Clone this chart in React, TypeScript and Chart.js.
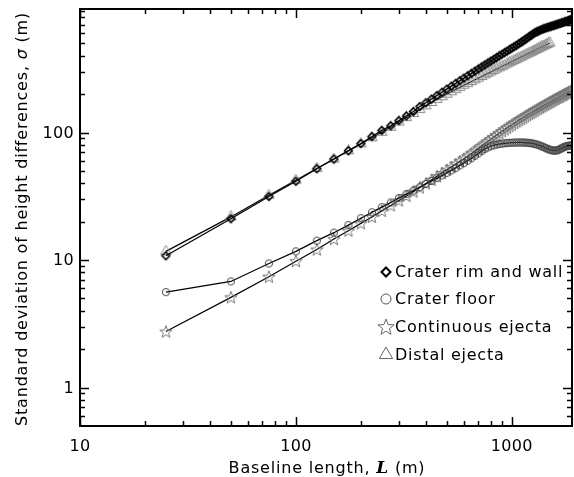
import React, { useEffect, useRef } from 'react';
import { Chart, registerables } from 'chart.js';

Chart.register(...registerables);

const W = 574;
const H = 477;

// Baseline length L (m)
const baseline = [
  25, 50, 75, 100, 125, 150, 175, 200, 225, 250, 275, 300, 325, 350, 375,
  400, 425, 450, 475, 500, 525, 550, 575, 600, 625, 650, 675, 700, 725, 750,
  775, 800, 825, 850, 875, 900, 925, 950, 975, 1000,
  1025, 1050, 1075, 1100, 1125, 1150, 1175, 1200, 1225, 1250, 1275, 1300,
  1325, 1350, 1375, 1400, 1425, 1450, 1475, 1500, 1525, 1550, 1575, 1600,
  1625, 1650, 1675, 1700, 1725, 1750, 1775, 1800, 1825, 1850, 1875, 1900,
];

// sigma (m) per unit
const rimWall = [
  10.8, 21.1, 31.5, 41.5, 52, 62, 72, 82, 93, 104, 113, 124, 135, 146, 160,
  171, 183, 195, 207, 219, 231, 243, 255, 267, 279, 291, 303, 315, 327, 339,
  351, 363, 375, 387, 399, 411, 423, 435, 447, 459,
  471, 483, 495, 508, 521, 535, 549, 563, 577, 591, 604, 615,
  625, 634, 642, 650, 657, 664, 670, 676, 682, 688, 694, 700,
  706, 712, 718, 724, 730, 736, 742, 748, 754, 761, 768, 775,
];

const craterFloor = [
  5.6, 6.8, 9.4, 11.7, 14.2, 16.4, 18.8, 21.3, 23.7, 26.0, 28.3, 30.6, 32.9, 35.1, 37.3,
  39.5, 41.7, 43.9, 46.1, 48.3, 50.5, 52.8, 55.2, 57.6, 60.2, 62.8, 65.6, 68.5, 71.5, 74.2,
  76.4, 78.1, 79.4, 80.4, 81.2, 81.8, 82.3, 82.7, 83.0, 83.2,
  83.4, 83.5, 83.6, 83.6, 83.5, 83.4, 83.2, 82.9, 82.5, 82.0, 81.4, 80.7,
  79.9, 79.0, 78.0, 77.0, 76.0, 75.0, 74.1, 73.3, 72.7, 72.3, 72.1, 72.2,
  72.6, 73.3, 74.2, 75.2, 76.2, 77.1, 77.8, 78.3, 78.7, 79.0, 79.2, 79.3,
];

const continuousEjecta = [
  2.75, 5.1, 7.4, 9.8, 12.1, 14.6, 17.0, 19.4, 21.8, 24.3, 26.8, 29.3, 31.8, 34.4, 37.0,
  39.8, 42.6, 45.4, 48.2, 51.0, 53.8, 56.6, 59.5, 62.4, 65.4, 68.6, 71.9, 75.3, 78.7, 82.1,
  85.5, 88.9, 92.3, 95.7, 99.1, 102.4, 105.7, 108.9, 112.1, 115.3,
  118.4, 121.5, 124.6, 127.6, 130.6, 133.6, 136.6, 139.6, 142.5, 145.4, 148.3, 151.2,
  154.0, 156.8, 159.6, 162.4, 165.2, 167.9, 170.6, 173.3, 176.0, 178.7, 181.4, 184.0,
  186.6, 189.2, 191.8, 194.4, 197.0, 199.5, 202.0, 204.5, 207.0, 209.5, 212.0, 214.5,
];

// distal ejecta stops at L = 1500 m
const distalEjecta = [
  11.7, 21.8, 32.2, 42.3, 52.3, 62, 71.8, 81.5, 91, 100.5, 110,
  121, 131, 141, 152, 162,
  172, 182, 191, 200, 209, 218, 226, 235, 243, 251, 259, 267, 275, 283, 291, 299,
  307, 315, 322, 330, 338, 345, 353, 360,
  368, 375, 383, 390, 397, 405, 412, 419, 426, 433, 441, 448, 455, 462, 469, 476,
  483, 490, 497, 504,
];

const seriesNames = ['Crater rim and wall', 'Crater floor', 'Continuous ejecta', 'Distal ejecta'];

const xMajorTicks = [10, 100, 1000];
const xMinorTicks = [20, 30, 40, 50, 60, 70, 80, 90, 200, 300, 400, 500, 600, 700, 800, 900];
const yMajorTicks = [1, 10, 100];
const yMinorTicks = [0.6, 0.7, 0.8, 0.9, 2, 3, 4, 5, 6, 7, 8, 9, 20, 30, 40, 50, 60, 70, 80, 90, 200, 300, 400, 500, 600, 700, 800, 900];
const xTickLabels = ['10', '100', '1000'];
const yTickLabels = ['1', '10', '100'];

type Ctx = CanvasRenderingContext2D;

function pathDiamond(c: Ctx, cx: number, cy: number, r: number) {
  c.beginPath();
  c.moveTo(cx, cy - r);
  c.lineTo(cx + r, cy);
  c.lineTo(cx, cy + r);
  c.lineTo(cx - r, cy);
  c.closePath();
}
function pathCircle(c: Ctx, cx: number, cy: number, r: number) {
  c.beginPath();
  c.arc(cx, cy, r, 0, Math.PI * 2);
  c.closePath();
}
function pathStar(c: Ctx, cx: number, cy: number, ro: number, ri: number) {
  c.beginPath();
  for (let i = 0; i < 10; i++) {
    const a = -Math.PI / 2 + (i * Math.PI) / 5;
    const r = i % 2 === 0 ? ro : ri;
    const px = cx + r * Math.cos(a);
    const py = cy + r * Math.sin(a);
    if (i === 0) c.moveTo(px, py);
    else c.lineTo(px, py);
  }
  c.closePath();
}
function pathTriangle(c: Ctx, cx: number, cy: number, r: number) {
  c.beginPath();
  c.moveTo(cx, cy - r);
  c.lineTo(cx + r * 0.95, cy + r * 0.65);
  c.lineTo(cx - r * 0.95, cy + r * 0.65);
  c.closePath();
}

function makeMarker(size: number, draw: (c: Ctx, m: number) => void) {
  const cv = document.createElement('canvas');
  cv.width = size;
  cv.height = size;
  const c = cv.getContext('2d') as Ctx;
  draw(c, size / 2);
  return cv;
}

function setSpacing(ctx: Ctx, s: number) {
  (ctx as any).letterSpacing = s + 'px';
}

function drawRich(ctx: Ctx, parts: { t: string; f: string }[], cx: number, y: number, spacing: number) {
  setSpacing(ctx, spacing);
  const widths = parts.map((p) => {
    ctx.font = p.f;
    return ctx.measureText(p.t).width;
  });
  const total = widths.reduce((a, b) => a + b, 0);
  let x = cx - total / 2;
  parts.forEach((p, i) => {
    ctx.font = p.f;
    ctx.fillText(p.t, x, y);
    x += widths[i];
  });
  setSpacing(ctx, 0);
}

const decorPlugin = {
  id: 'decor',
  afterDraw(chart: any) {
    const ctx: Ctx = chart.ctx;
    const ca = chart.chartArea;
    const xs = chart.scales.x;
    const ys = chart.scales.y;
    ctx.save();
    ctx.strokeStyle = '#000';
    ctx.fillStyle = '#000';
    ctx.lineWidth = 2;
    ctx.strokeRect(ca.left, ca.top, ca.right - ca.left, ca.bottom - ca.top);

    ctx.lineWidth = 1.5;
    const seg = (x1: number, y1: number, x2: number, y2: number) => {
      ctx.beginPath();
      ctx.moveTo(x1, y1);
      ctx.lineTo(x2, y2);
      ctx.stroke();
    };
    const xt = (v: number, len: number) => {
      const px = Math.round(xs.getPixelForValue(v)) + 0.5;
      if (px < ca.left || px > ca.right) return;
      seg(px, ca.bottom, px, ca.bottom - len);
      seg(px, ca.top, px, ca.top + len);
    };
    const yt = (v: number, len: number) => {
      const py = Math.round(ys.getPixelForValue(v)) + 0.5;
      if (py < ca.top || py > ca.bottom) return;
      seg(ca.left, py, ca.left + len, py);
      seg(ca.right, py, ca.right - len, py);
    };
    xMajorTicks.forEach((v) => xt(v, 9));
    xMinorTicks.forEach((v) => xt(v, 5));
    yMajorTicks.forEach((v) => yt(v, 9));
    yMinorTicks.forEach((v) => yt(v, 5));

    // tick labels
    ctx.font = '16px "DejaVu Sans"';
    setSpacing(ctx, 0.3);
    ctx.textAlign = 'center';
    ctx.textBaseline = 'middle';
    xMajorTicks.forEach((v, i) => {
      ctx.fillText(xTickLabels[i], xs.getPixelForValue(v), 447);
    });
    ctx.textAlign = 'right';
    yMajorTicks.forEach((v, i) => {
      ctx.fillText(yTickLabels[i], 74, ys.getPixelForValue(v) + 1);
    });
    setSpacing(ctx, 0);

    const sansF = '16px "DejaVu Sans"';
    ctx.textAlign = 'left';
    ctx.textBaseline = 'alphabetic';
    // x title
    drawRich(
      ctx,
      [
        { t: 'Baseline length, ', f: sansF },
        { t: 'L', f: 'italic bold 17px "DejaVu Serif"' },
        { t: ' (m)', f: sansF },
      ],
      327,
      473,
      0.8
    );

    // y title
    ctx.save();
    ctx.translate(27, 219);
    ctx.rotate(-Math.PI / 2);
    drawRich(
      ctx,
      [
        { t: 'Standard deviation of height differences, ', f: sansF },
        { t: 'σ', f: 'italic 16px "DejaVu Sans"' },
        { t: ' (m)', f: sansF },
      ],
      0,
      0,
      0.8
    );
    ctx.restore();

    // legend
    const rows = [272, 299, 327, 355];
    const mx = 386;
    ctx.lineWidth = 2;
    ctx.strokeStyle = '#000';
    pathDiamond(ctx, mx, rows[0], 4.5);
    ctx.stroke();
    ctx.lineWidth = 1;
    ctx.strokeStyle = '#555';
    pathCircle(ctx, mx, rows[1], 5);
    ctx.stroke();
    ctx.strokeStyle = '#666';
    pathStar(ctx, mx, rows[2] + 0.5, 8.5, 3.6);
    ctx.stroke();
    pathTriangle(ctx, mx, rows[3] - 1, 7);
    ctx.stroke();
    ctx.font = '16px "DejaVu Sans"';
    ctx.fillStyle = '#000';
    ctx.textAlign = 'left';
    ctx.textBaseline = 'middle';
    setSpacing(ctx, 0.75);
    seriesNames.forEach((n, i) => ctx.fillText(n, 395, rows[i] + 1));
    setSpacing(ctx, 0);
    ctx.restore();
  },
};

export default function App() {
  const ref = useRef<HTMLCanvasElement | null>(null);
  useEffect(() => {
    if (!ref.current) return;
    const diamond = makeMarker(11, (c, m) => {
      c.strokeStyle = '#000';
      c.lineWidth = 1.6;
      pathDiamond(c, m, m, 3.8);
      c.stroke();
    });
    const circle = makeMarker(10, (c, m) => {
      c.strokeStyle = '#444';
      c.lineWidth = 1;
      pathCircle(c, m, m, 3.6);
      c.stroke();
    });
    const star = makeMarker(16, (c, m) => {
      c.strokeStyle = '#777';
      c.lineWidth = 1;
      pathStar(c, m, m + 0.5, 6.5, 2.7);
      c.stroke();
    });
    const tri = makeMarker(13, (c, m) => {
      c.strokeStyle = '#888';
      c.lineWidth = 1;
      pathTriangle(c, m, m - 0.5, 5.5);
      c.stroke();
    });
    const toPts = (vals: number[]) => vals.map((v, i) => ({ x: baseline[i], y: v }));
    const chart = new Chart(ref.current, {
      type: 'line',
      data: {
        datasets: [
          {
            label: seriesNames[0],
            data: toPts(rimWall),
            borderColor: '#000',
            borderWidth: 1.3,
            pointStyle: diamond as any,
            pointRadius: 4,
          },
          {
            label: seriesNames[1],
            data: toPts(craterFloor),
            borderColor: '#000',
            borderWidth: 1.2,
            pointStyle: circle as any,
            pointRadius: 4,
          },
          {
            label: seriesNames[2],
            data: toPts(continuousEjecta),
            borderColor: '#000',
            borderWidth: 1.2,
            pointStyle: star as any,
            pointRadius: 6,
          },
          {
            label: seriesNames[3],
            data: toPts(distalEjecta),
            borderColor: '#000',
            borderWidth: 1.2,
            pointStyle: tri as any,
            pointRadius: 5,
          },
        ],
      },
      options: {
        animation: false,
        responsive: false,
        maintainAspectRatio: false,
        layout: { autoPadding: false, padding: { top: 9, right: 2, left: 0, bottom: 0 } },
        plugins: { legend: { display: false }, tooltip: { enabled: false } },
        elements: { line: { tension: 0, fill: false } },
        scales: {
          x: {
            type: 'logarithmic',
            min: 10,
            max: 1900,
            ticks: { display: false },
            grid: { display: false },
            border: { display: false },
            afterFit: (s: any) => {
              s.height = 51;
            },
          },
          y: {
            type: 'logarithmic',
            min: 0.5,
            max: 930,
            ticks: { display: false },
            grid: { display: false },
            border: { display: false },
            afterFit: (s: any) => {
              s.width = 80;
            },
          },
        },
      },
      plugins: [decorPlugin],
    });
    return () => chart.destroy();
  }, []);
  return (
    <div style={{ position: 'fixed', left: 0, top: 0, width: W, height: H, background: '#fff' }}>
      <canvas ref={ref} width={W} height={H} style={{ width: W, height: H, display: 'block' }} />
    </div>
  );
}
